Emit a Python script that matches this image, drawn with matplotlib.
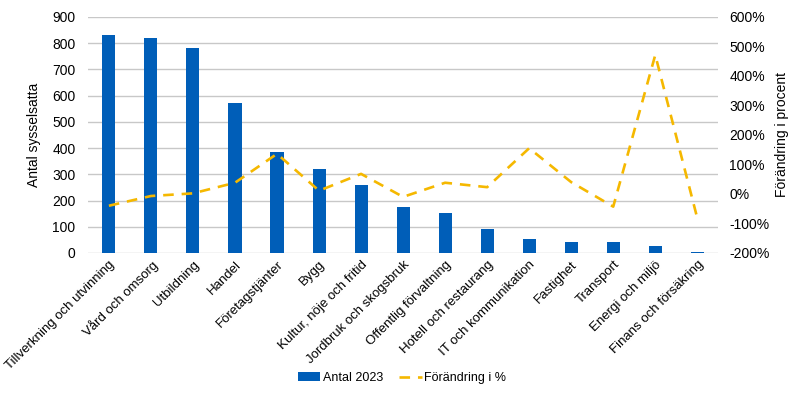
import numpy as np
import matplotlib.pyplot as plt
from matplotlib.ticker import FuncFormatter

plt.rcParams["font.family"] = ["Liberation Sans", "DejaVu Sans"]

categories = [
    "Tillverkning och utvinning", "Vård och omsorg", "Utbildning", "Handel",
    "Företagstjänter", "Bygg", "Kultur, nöje och fritid", "Jordbruk och skogsbruk",
    "Offentlig förvaltning", "Hotell och restaurang", "IT och kommunikation",
    "Fastighet", "Transport", "Energi och miljö", "Finans och försäkring",
]
antal_2023 = [830, 818, 780, 570, 385, 322, 260, 175, 153, 90, 52, 43, 40, 27, 2]
forandring = [-40, -7, 2, 38, 136, 11, 68, -10, 38, 23, 155, 40, -43, 471, -82]

bar_color = "#005EB8"
line_color = "#F5B800"
grid_color = "#C8C8C8"

fig = plt.figure(figsize=(7.99, 3.94), dpi=100)
ax = fig.add_axes([0.110, 0.358, 0.789, 0.599])
x = np.arange(len(categories))

bars = ax.bar(x, antal_2023, width=0.31, color=bar_color, zorder=3, label="Antal 2023")
ax.set_ylim(0, 900)
ax.set_yticks(range(0, 901, 100))
ax.set_xlim(-0.5, len(categories) - 0.5)
ax.grid(axis="y", color=grid_color, linewidth=1, zorder=0)
ax.set_axisbelow(True)
for s in ax.spines.values():
    s.set_visible(False)
ax.tick_params(axis="y", length=0, labelsize=10, pad=9)
ax.tick_params(axis="x", length=0, pad=4)
ax.set_xticks(x)
ax.set_xticklabels(categories, rotation=45, ha="right", rotation_mode="anchor", fontsize=9.5)
ax.set_ylabel("Antal sysselsatta", fontsize=10, labelpad=8)

ax2 = ax.twinx()
line, = ax2.plot(x, forandring, color=line_color, linestyle=(0, (4, 3)), linewidth=1.9,
                 zorder=4, label="Förändring i %")
ax2.set_ylim(-200, 600)
ax2.set_yticks(range(-200, 601, 100))
ax2.yaxis.set_major_formatter(FuncFormatter(lambda v, p: f"{int(v)}%"))
for s in ax2.spines.values():
    s.set_visible(False)
ax2.tick_params(axis="y", length=0, labelsize=10, pad=8)
ax2.set_ylabel("Förändring i procent", fontsize=10, labelpad=4)

fig.legend([bars, line], ["Antal 2023", "Förändring i %"], loc="center",
           bbox_to_anchor=(0.503, 0.04), ncol=2, frameon=False, fontsize=9,
           handlelength=1.8, columnspacing=1.3, handletextpad=0.2)

fig.savefig("out.png", dpi=100)
